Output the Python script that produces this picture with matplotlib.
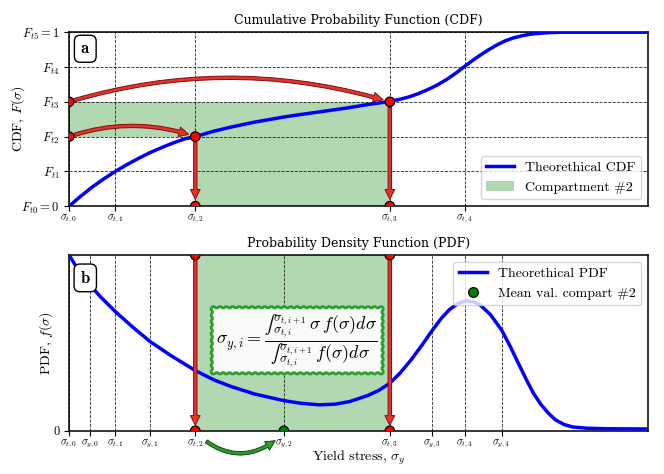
import matplotlib
matplotlib.use('Agg')
import matplotlib.pyplot as plt
from matplotlib.patches import FancyArrowPatch, Ellipse
from matplotlib.lines import Line2D

plt.rcParams['font.family'] = 'serif'
plt.rcParams['font.serif'] = ['cmr10', 'DejaVu Serif']
plt.rcParams['mathtext.fontset'] = 'cm'
plt.rcParams['axes.unicode_minus'] = False
plt.rcParams['axes.formatter.use_mathtext'] = True

# compartment limits and mean values (x axis runs 0..100)
sig_t = [0.0, 8.0, 21.8, 55.4, 68.3]
sig_y = [3.6, 14.0, 37.1, 62.7, 74.7]
F_lev = [0.0, 0.2, 0.4, 0.6, 0.8, 1.0]

F_labels = [r'$F_{t0}=0$', r'$F_{t1}$', r'$F_{t2}$', r'$F_{t3}$', r'$F_{t4}$', r'$F_{t5}=1$']
t_labels = [r'$\sigma_{t,%d}$' % i for i in range(5)]
y_labels = [r'$\sigma_{y,%d}$' % i for i in range(5)]

# theoretical CDF
cdf_x = [0, 2, 4, 6, 8, 10, 12, 14, 16, 18, 20, 21.8, 25, 28, 32, 37, 40, 43, 46,
         48.5, 51.5, 55.4, 57.2, 58.9, 60.4, 61.8, 63.5, 65.2, 66.8, 68.3, 69.7, 71,
         72.5, 73.9, 75.3, 76.7, 78.5, 80.2, 82.5, 84.8, 90, 100]
cdf_y = [0, 0.057, 0.11, 0.157, 0.2, 0.239, 0.275, 0.308, 0.337, 0.364, 0.387, 0.4,
         0.431, 0.455, 0.483, 0.512, 0.527, 0.541, 0.555, 0.567, 0.584, 0.602, 0.615,
         0.63, 0.648, 0.668, 0.695, 0.728, 0.765, 0.803, 0.838, 0.868, 0.9, 0.927, 0.95,
         0.967, 0.982, 0.991, 0.997, 1.0, 1.0, 1.0]

# theoretical PDF (relative to the top of the axis)
pdf_x = [0, 1.5, 3.6, 5.5, 8.0, 11, 14.0, 17.5, 21.8, 25, 28, 32, 37.1, 40, 43.2, 46,
         48.5, 51.5, 53.5, 55.4, 57.2, 59.1, 61, 62.7, 64.3, 65.7, 67.2, 68.6, 69.8, 71,
         72.8, 74.7, 76.2, 77.6, 79, 80.2, 81.5, 82.8, 84, 85.5, 87, 89.4, 93, 100]
pdf_y = [1.0, 0.92, 0.83, 0.76, 0.678, 0.59, 0.508, 0.43, 0.343, 0.29, 0.252, 0.21,
         0.172, 0.157, 0.148, 0.152, 0.167, 0.2, 0.23, 0.271, 0.33, 0.405, 0.49, 0.57,
         0.64, 0.69, 0.725, 0.74, 0.735, 0.716, 0.66, 0.574, 0.48, 0.384, 0.29, 0.214,
         0.15, 0.10, 0.063, 0.036, 0.022, 0.015, 0.012, 0.011]

formula = ('$\\sigma_{y,i} = \\dfrac{\u222b_{\\sigma_{t,i}}^{\\sigma_{t,i+1}}\\,\\sigma\\, f(\\sigma) d\\sigma}'
           '{\u222b_{\\sigma_{t,i}}^{\\sigma_{t,i+1}}\\, f(\\sigma) d\\sigma}$')

arrow_red = dict(arrowstyle='simple,head_width=1.0,head_length=1.0,tail_width=0.35',
                 mutation_scale=7, fc='#e8312b', ec='#7a1010', lw=0.7, zorder=4)


def red_arrow(ax, p0, p1, rad=0.0, sa=4, sb=5):
    ax.add_patch(FancyArrowPatch(p0, p1, connectionstyle='arc3,rad=%g' % rad,
                                 shrinkA=sa, shrinkB=sb, **arrow_red))


def dots(ax, xs, ys, color, d_px=9.5):
    # round dots as ellipses in data units so the axes clips them at the edges
    bb = ax.get_window_extent()
    x0, x1 = ax.get_xlim()
    y0, y1 = ax.get_ylim()
    w = d_px * (x1 - x0) / bb.width
    h = d_px * (y1 - y0) / bb.height
    for x, y in zip(xs, ys):
        ax.add_patch(Ellipse((x, y), w, h, fc=color, ec='k', lw=0.9, zorder=5))


fig = plt.figure(figsize=(6.64, 4.74), dpi=100)
ax1 = fig.add_axes([0.104, 0.565, 0.872, 0.367])
ax2 = fig.add_axes([0.104, 0.091, 0.872, 0.371])
ax1.set_xlim(0, 100)
ax1.set_ylim(0, 1)
ax2.set_xlim(0, 100)
ax2.set_ylim(0, 1)

# ---- CDF ----
h_fill = ax1.fill([0, sig_t[2], sig_t[2], sig_t[3], sig_t[3], 0],
                  [F_lev[2], F_lev[2], 0, 0, F_lev[3], F_lev[3]],
                  color='green', alpha=0.3, lw=0)[0]
h_cdf, = ax1.plot(cdf_x, cdf_y, color='blue', lw=2.5, zorder=3)

red_arrow(ax1, (0, F_lev[2]), (sig_t[2], F_lev[2]), rad=-0.17)
red_arrow(ax1, (0, F_lev[3]), (sig_t[3], F_lev[3]), rad=-0.15)
red_arrow(ax1, (sig_t[2], F_lev[2]), (sig_t[2], 0))
red_arrow(ax1, (sig_t[3], F_lev[3]), (sig_t[3], 0))

dots(ax1, [0, 0, sig_t[2], sig_t[3], sig_t[2], sig_t[3]],
     [F_lev[2], F_lev[3], F_lev[2], F_lev[3], 0, 0], 'red')

ax1.set_xticks(sig_t)
ax1.set_xticklabels(t_labels, fontsize=7.5)
ax1.set_yticks(F_lev)
ax1.set_yticklabels(F_labels, fontsize=9)
ax1.tick_params(axis='x', pad=1.5)
ax1.grid(True, ls='--', color='k', lw=0.6, alpha=0.85)
ax1.set_ylabel(r'CDF, $F(\sigma)$', fontsize=10)
ax1.yaxis.set_label_coords(-0.072, 0.5)
ax1.set_title('Cumulative Probability Function (CDF)', fontsize=9, family='DejaVu Serif')
ax1.legend([h_cdf, h_fill], ['Theorethical CDF', 'Compartment #2'],
           loc='lower right', fontsize=10)
ax1.text(0.028, 0.905, r'$\mathbf{a}$', transform=ax1.transAxes, fontsize=12,
         ha='center', va='center',
         bbox=dict(boxstyle='round,pad=0.35', fc='white', ec='k', lw=1))

# ---- PDF ----
ax2.axvspan(sig_t[2], sig_t[3], color='green', alpha=0.3, lw=0)
h_pdf, = ax2.plot(pdf_x, pdf_y, color='blue', lw=2.5, zorder=3)
red_arrow(ax2, (sig_t[2], 1.0), (sig_t[2], 0), sa=3, sb=4)
red_arrow(ax2, (sig_t[3], 1.0), (sig_t[3], 0), sa=3, sb=4)
dots(ax2, [sig_t[2], sig_t[3], sig_t[2], sig_t[3]], [1, 1, 0, 0], 'red')
dots(ax2, [sig_y[2]], [0], 'green')
h_mean = Line2D([], [], marker='o', ls='none', mfc='green', mec='k', ms=7, mew=0.9)

ax2.text(39.4, 0.515, formula, fontsize=13, ha='center', va='center', zorder=6,
         bbox=dict(boxstyle='roundtooth,pad=0.35,tooth_size=0.18', fc='white',
                   ec='#1f9a1f', lw=2, alpha=0.92))

ax2.annotate('', xy=(35.6, -0.055), xytext=(23.7, -0.06),
             xycoords=('data', 'axes fraction'), textcoords=('data', 'axes fraction'),
             annotation_clip=False,
             arrowprops=dict(arrowstyle='simple,head_width=1.0,head_length=1.0,tail_width=0.35',
                             mutation_scale=7, connectionstyle='arc3,rad=0.36',
                             shrinkA=0, shrinkB=0,
                             fc='#2e9a2e', ec='#0d4d0d', lw=0.7))

ticks2 = sorted(sig_t + sig_y)
lab_map = dict(zip(sig_t + sig_y, t_labels + y_labels))
ax2.set_xticks(ticks2)
ax2.set_xticklabels([lab_map[v] for v in ticks2], fontsize=7.5)
ax2.tick_params(axis='x', pad=1.5)
ax2.set_yticks([0])
ax2.set_yticklabels(['0'], fontsize=9)
ax2.grid(True, axis='x', ls='--', color='k', lw=0.6, alpha=0.85)
ax2.set_xlabel(r'Yield stress, $\sigma_y$', fontsize=10, labelpad=-1)
ax2.set_ylabel(r'PDF, $f(\sigma)$', fontsize=10)
ax2.yaxis.set_label_coords(-0.024, 0.5)
ax2.set_title('Probability Density Function (PDF)', fontsize=9, family='DejaVu Serif')
ax2.legend([h_pdf, h_mean], ['Theorethical PDF', 'Mean val. compart #2'],
           loc='upper right', fontsize=10)
ax2.text(0.028, 0.87, r'$\mathbf{b}$', transform=ax2.transAxes, fontsize=12,
         ha='center', va='center',
         bbox=dict(boxstyle='round,pad=0.35', fc='white', ec='k', lw=1))

for ax in (ax1, ax2):
    for s in ax.spines.values():
        s.set_linewidth(1.1)

fig.savefig('out.png', dpi=100)
